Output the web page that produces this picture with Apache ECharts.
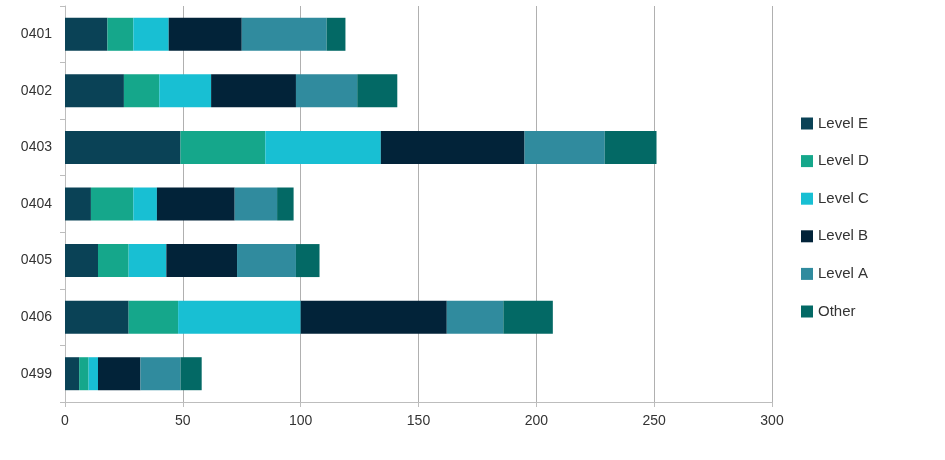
<!DOCTYPE html>
<html>
<head>
<meta charset="utf-8">
<script src="https://cdn.jsdelivr.net/npm/echarts@6/dist/echarts.min.js"></script>
<style>
  html, body { margin: 0; padding: 0; background: #fff; }
  #chart { width: 945px; height: 460px; }
</style>
</head>
<body>
<div id="chart"></div>
<script>
// 类别（从上到下）
const categories = ['0401', '0402', '0403', '0404', '0405', '0406', '0499'];

// 各等级数值
const levelE = [18, 25, 49, 11, 14, 27, 6];
const levelD = [11, 15, 36, 18, 13, 21, 4];
const levelC = [15, 22, 49, 10, 16, 52, 4];
const levelB = [31, 36, 61, 33, 30, 62, 18];
const levelA = [36, 26, 34, 18, 25, 24, 17];
const other  = [8, 17, 22, 7, 10, 21, 9];

const xTicks = { min: 0, max: 300, interval: 50 };

const seriesDefs = [
  { name: 'Level E', data: levelE, color: '#0a4256' },
  { name: 'Level D', data: levelD, color: '#15a78b' },
  { name: 'Level C', data: levelC, color: '#18bfd3' },
  { name: 'Level B', data: levelB, color: '#022339' },
  { name: 'Level A', data: levelA, color: '#308b9e' },
  { name: 'Other',   data: other,  color: '#036965' }
];

const chart = echarts.init(document.getElementById('chart'));

const font = '"Liberation Sans", Arial, Helvetica, sans-serif';

const option = {
  animation: false,
  textStyle: { fontFamily: font },
  grid: {
    left: 65,
    right: 173,
    top: 6,
    bottom: 58,
    containLabel: false
  },
  legend: {
    orient: 'vertical',
    left: 796,
    top: 111,
    itemWidth: 12,
    itemHeight: 12,
    itemGap: 22.6,
    icon: 'rect',
    textStyle: { fontSize: 15, color: '#333', fontFamily: font, padding: [0, 0, 0, 0] },
    data: seriesDefs.map(s => s.name)
  },
  xAxis: {
    type: 'value',
    min: xTicks.min,
    max: xTicks.max,
    interval: xTicks.interval,
    axisLine: { show: true, lineStyle: { color: '#bdbdbd', width: 1 } },
    axisTick: { show: true, length: 5, lineStyle: { color: '#bdbdbd' } },
    axisLabel: { fontSize: 14, color: '#333', margin: 12, fontFamily: font },
    splitLine: { show: true, lineStyle: { color: '#b0b0b0', width: 1 } }
  },
  yAxis: {
    type: 'category',
    data: categories,
    inverse: true,
    axisLine: { show: true, lineStyle: { color: '#bdbdbd', width: 1 } },
    axisTick: { show: true, length: 5, lineStyle: { color: '#bdbdbd' } },
    axisLabel: { fontSize: 14, color: '#333', margin: 13, fontFamily: font },
    splitLine: { show: false }
  },
  series: seriesDefs.map(s => ({
    name: s.name,
    type: 'bar',
    stack: 'total',
    data: s.data,
    barWidth: 33,
    itemStyle: { color: s.color },
    emphasis: { disabled: true }
  }))
};

chart.setOption(option);
</script>
</body>
</html>
